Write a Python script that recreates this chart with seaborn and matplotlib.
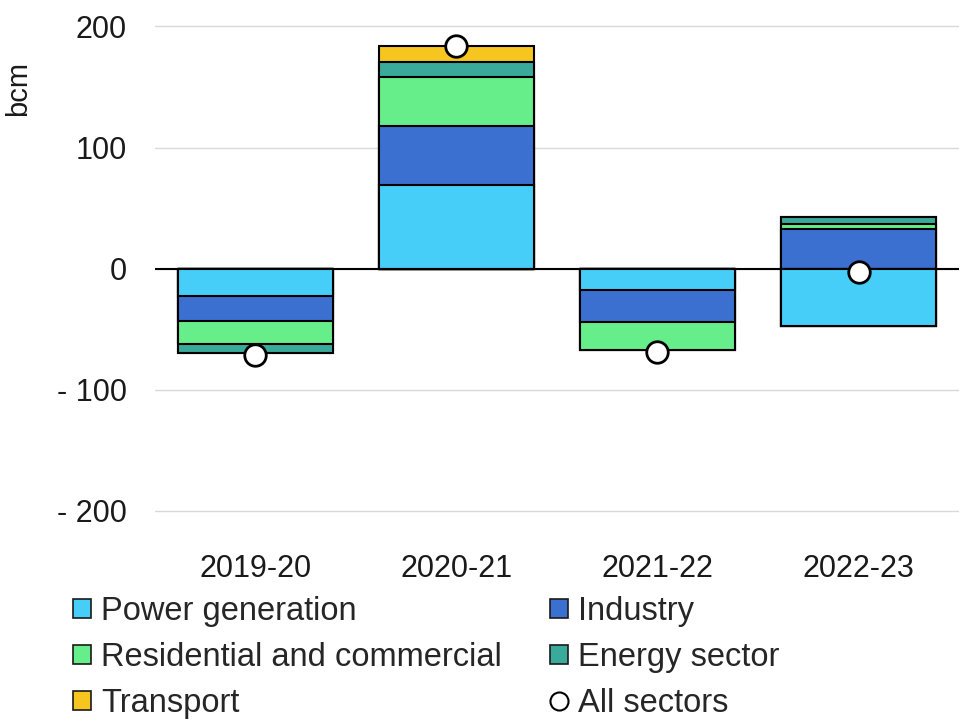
import matplotlib
matplotlib.use("Agg")
import matplotlib.pyplot as plt
from matplotlib.patches import Patch
from matplotlib.lines import Line2D
import seaborn as sns

# Werte (bcm) je Sektor und Jahr
years = ["2019-20", "2020-21", "2021-22", "2022-23"]
power = [-23, 69, -18, -47]
industry = [-20, 49, -26, 33]
residential = [-19, 40, -23, 4]
energy = [-8, 13, 0, 6]
transport = [0, 13, 0, 0]
all_sectors = [-71, 184, -69, -3]

sectors = ["Power generation", "Industry", "Residential and commercial",
           "Energy sector", "Transport"]
colors = ["#46CEF8", "#3B6FD0", "#66EE8A", "#3AAA9A", "#F6C520"]
layers = [power, industry, residential, energy, transport]

yticks = [-200, -100, 0, 100, 200]
ytick_labels = ["- 200", "- 100", "0", "100", "200"]

sns.set_theme(style="white")
plt.rcParams["font.family"] = ["Liberation Sans", "DejaVu Sans"]

fig = plt.figure(figsize=(9.61, 7.26), dpi=100)
ax = fig.add_axes([0.161, 0.294, 0.837, 0.672])

# gestapelte Balken: kumulierte Summen von oben nach unten zeichnen
for k in reversed(range(len(layers))):
    pos = [sum(max(layers[j][i], 0) for j in range(k + 1)) for i in range(len(years))]
    neg = [sum(min(layers[j][i], 0) for j in range(k + 1)) for i in range(len(years))]
    for vals in (pos, neg):
        sns.barplot(x=years, y=vals, color=colors[k], saturation=1, width=0.77,
                    edgecolor="black", linewidth=1.5, ax=ax, zorder=2)

ax.axhline(0, color="black", lw=1.5, zorder=1.5)

sns.scatterplot(x=years, y=all_sectors, s=240, color="white", edgecolor="black",
                linewidth=2, zorder=5, ax=ax, legend=False, clip_on=False)

ax.set_xlim(-0.5, 3.5)
ax.set_ylim(-201.5, 201.5)
ax.set_yticks(yticks)
ax.set_yticklabels(ytick_labels)
ax.yaxis.grid(True, color="#d9d9d9", lw=1)
ax.set_axisbelow(True)
for s in ax.spines.values():
    s.set_visible(False)
ax.tick_params(axis="both", length=0, labelsize=22, colors="#1a1a1a")
ax.tick_params(axis="y", pad=20)
ax.tick_params(axis="x", pad=30)
ax.set_xlabel("")
ax.set_ylabel("bcm", fontsize=21, color="#1a1a1a")
ax.yaxis.set_label_coords(-0.152, 0.87)

handles = [Patch(facecolor=c, edgecolor="#1a1a1a", lw=1.2) for c in colors]
handles.append(Line2D([], [], marker="o", ls="", markerfacecolor="white",
                      markeredgecolor="black", markersize=13, markeredgewidth=1.5))
labels = sectors + ["All sectors"]
order = [0, 2, 4, 1, 3, 5]
fig.legend([handles[i] for i in order], [labels[i] for i in order],
           loc="upper left", bbox_to_anchor=(0.076, 0.179), ncol=2, frameon=False,
           fontsize=23.5, handlelength=0.55, handleheight=0.55, handletextpad=0.3,
           columnspacing=1.5, labelspacing=0.46, borderpad=0, borderaxespad=0)

fig.savefig("out.png", dpi=100)
